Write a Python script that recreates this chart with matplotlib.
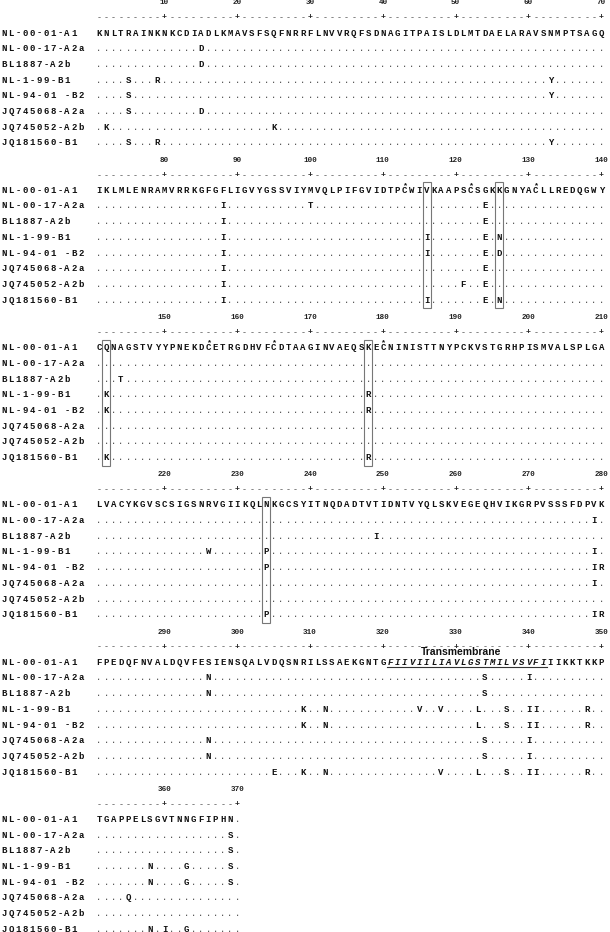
import matplotlib
matplotlib.use("Agg")
import matplotlib.pyplot as plt
from matplotlib.patches import Rectangle

# strain names, first one is the reference sequence
strains = ["NL-00-01-A1", "NL-00-17-A2a", "BL1887-A2b", "NL-1-99-B1",
           "NL-94-01 -B2", "JQ745068-A2a", "JQ745052-A2b", "JQ181560-B1"]

reference = ("KNLTRAINKNKCDIADLKMAVSFSQFNRRFLNVVRQFSDNAGITPAISLDLMTDAELARAVSNMPTSAGQ"
             "IKLMLENRAMVRRKGFGFLIGVYGSSVIYMVQLPIFGVIDTPCWIVKAAPSCSGKKGNYACLLREDQGWY"
             "CQNAGSTVYYPNEKDCETRGDHVFCDTAAGINVAEQSKECNINISTTNYPCKVSTGRHPISMVALSPLGA"
             "LVACYKGVSCSIGSNRVGIIKQLNKGCSYITNQDADTVTIDNTVYQLSKVEGEQHVIKGRPVSSSFDPVK"
             "FPEDQFNVALDQVFESIENSQALVDQSNRILSSAEKGNTGFIIVIILIAVLGSTMILVSVFIIIKKTKKP"
             "TGAPPELSGVTNNGFIPHN.")

# substitutions relative to the reference, per strain
mut_nl0017_a2a = ["A15D", "F88I", "M100T", "G124E", "V279I", "S296N", "T334S", "V340I", "N369S"]
mut_bl1887_a2b = ["A15D", "F88I", "G124E", "A144T", "T249I", "S296N", "T334S", "N369S"]
mut_nl199_b1 = ["R5S", "K9R", "N63Y", "F88I", "V116I", "G124E", "K126N", "Q142K", "K178R",
                "R226W", "N234P", "V279I", "R309K", "S312N", "I325V", "I328V", "S333L",
                "L337S", "V340I", "F341I", "K348R", "S358N", "N363G", "N369S"]
mut_nl9401_b2 = ["R5S", "N63Y", "F88I", "V116I", "G124E", "K126D", "Q142K", "K178R", "N234P",
                 "V279I", "K280R", "R309K", "S312N", "S333L", "L337S", "V340I", "F341I",
                 "K348R", "S358N", "N363G", "N369S"]
mut_jq745068_a2a = ["R5S", "A15D", "F88I", "G124E", "V279I", "S296N", "T334S", "V340I", "P355Q"]
mut_jq745052_a2b = ["N2K", "Q25K", "F88I", "S121F", "G124E", "S296N", "T334S", "V340I"]
mut_jq181560_b1 = ["R5S", "K9R", "N63Y", "F88I", "V116I", "G124E", "K126N", "Q142K", "K178R",
                   "N234P", "V279I", "K280R", "D305E", "R309K", "S312N", "I328V", "S333L",
                   "L337S", "V340I", "F341I", "K348R", "S358N", "V360I", "N363G"]
mutations = [[], mut_nl0017_a2a, mut_bl1887_a2b, mut_nl199_b1, mut_nl9401_b2,
             mut_jq745068_a2a, mut_jq745052_a2b, mut_jq181560_b1]

boxed_sites = [116, 126, 142, 178, 234]
cysteine_marks = [113, 122, 131, 156, 165, 180]
tm_start, tm_end = 321, 342

# layout (pixel units)
block_len = 70
x0, dx = 99, 7.28
row_gap = 15.7
mono = "Liberation Mono"

fig = plt.figure(figsize=(6.10, 9.32), dpi=100)
ax = fig.add_axes([0, 0, 1, 1])
ax.set_xlim(0, 610)
ax.set_ylim(932, 0)
ax.axis("off")


def block_top(b):
    return 2 + 157.3 * b


def pos_xy(p, row=0):
    b = (p - 1) // block_len
    i = (p - 1) % block_len
    return x0 + i * dx, block_top(b) + 31 + row * row_gap


n_blocks = (len(reference) + block_len - 1) // block_len

# build each aligned row: dots where identical to the reference
rows = [reference]
for muts in mutations[1:]:
    seq = ["." if c != "." else "." for c in reference]
    for m in muts:
        seq[int(m[1:-1]) - 1] = m[-1]
    rows.append("".join(seq))

for b in range(n_blocks):
    top = block_top(b)
    start = b * block_len + 1
    end = min(len(reference), start + block_len - 1)
    # ruler
    for p in range(start, end + 1):
        x, _ = pos_xy(p)
        if p % 10 == 0:
            ax.text(x, top + 16, "+", fontsize=6, family=mono, weight="bold",
                    ha="center", va="center", color="#222")
            ax.text(x, top + 1, str(p), fontsize=5.5, family=mono, weight="bold",
                    ha="center", va="center", color="#222")
        else:
            ax.text(x, top + 16, "-", fontsize=6, family=mono,
                    ha="center", va="center", color="#333")
    # rows
    for r, (name, seq) in enumerate(zip(strains, rows)):
        y = top + 31 + r * row_gap
        for k, ch in enumerate(name):
            if ch != " ":
                ax.text(4 + k * 7.0, y, ch, fontsize=6.5, family=mono, weight="bold",
                        ha="center", va="center", color="#111")
        for p in range(start, end + 1):
            ch = seq[p - 1]
            x = pos_xy(p)[0]
            if ch == ".":
                ax.text(x, y, ".", fontsize=6.5, family=mono,
                        ha="center", va="center", color="#444")
            else:
                italic = r == 0 and tm_start <= p <= tm_end
                ax.text(x, y, ch, fontsize=6.5, family=mono, weight="bold",
                        style="italic" if italic else "normal",
                        ha="center", va="center", color="#111")

# boxed variable sites
for p in boxed_sites:
    x, y = pos_xy(p)
    y_last = y + (len(strains) - 1) * row_gap
    ax.add_patch(Rectangle((x - 4, y - 8), 8, (y_last + 8) - (y - 8),
                           fill=False, edgecolor="#777", linewidth=0.8))

# cysteine asterisks
for p in cysteine_marks:
    x, y = pos_xy(p)
    ax.text(x, y - 5, "*", fontsize=6, family=mono, weight="bold",
            ha="center", va="center", color="#111")

# transmembrane domain
xs, y = pos_xy(tm_start)
xe, _ = pos_xy(tm_end)
ax.plot([xs - 3.6, xe + 3.6], [y + 4.5, y + 4.5], color="#333", linewidth=0.8)
ax.text((xs + xe) / 2 - 6, y - 10, "Transmembrane", fontsize=7.5, weight="bold",
        family="Liberation Sans", ha="center", va="center", color="#111")

fig.savefig("out.png", dpi=100)
